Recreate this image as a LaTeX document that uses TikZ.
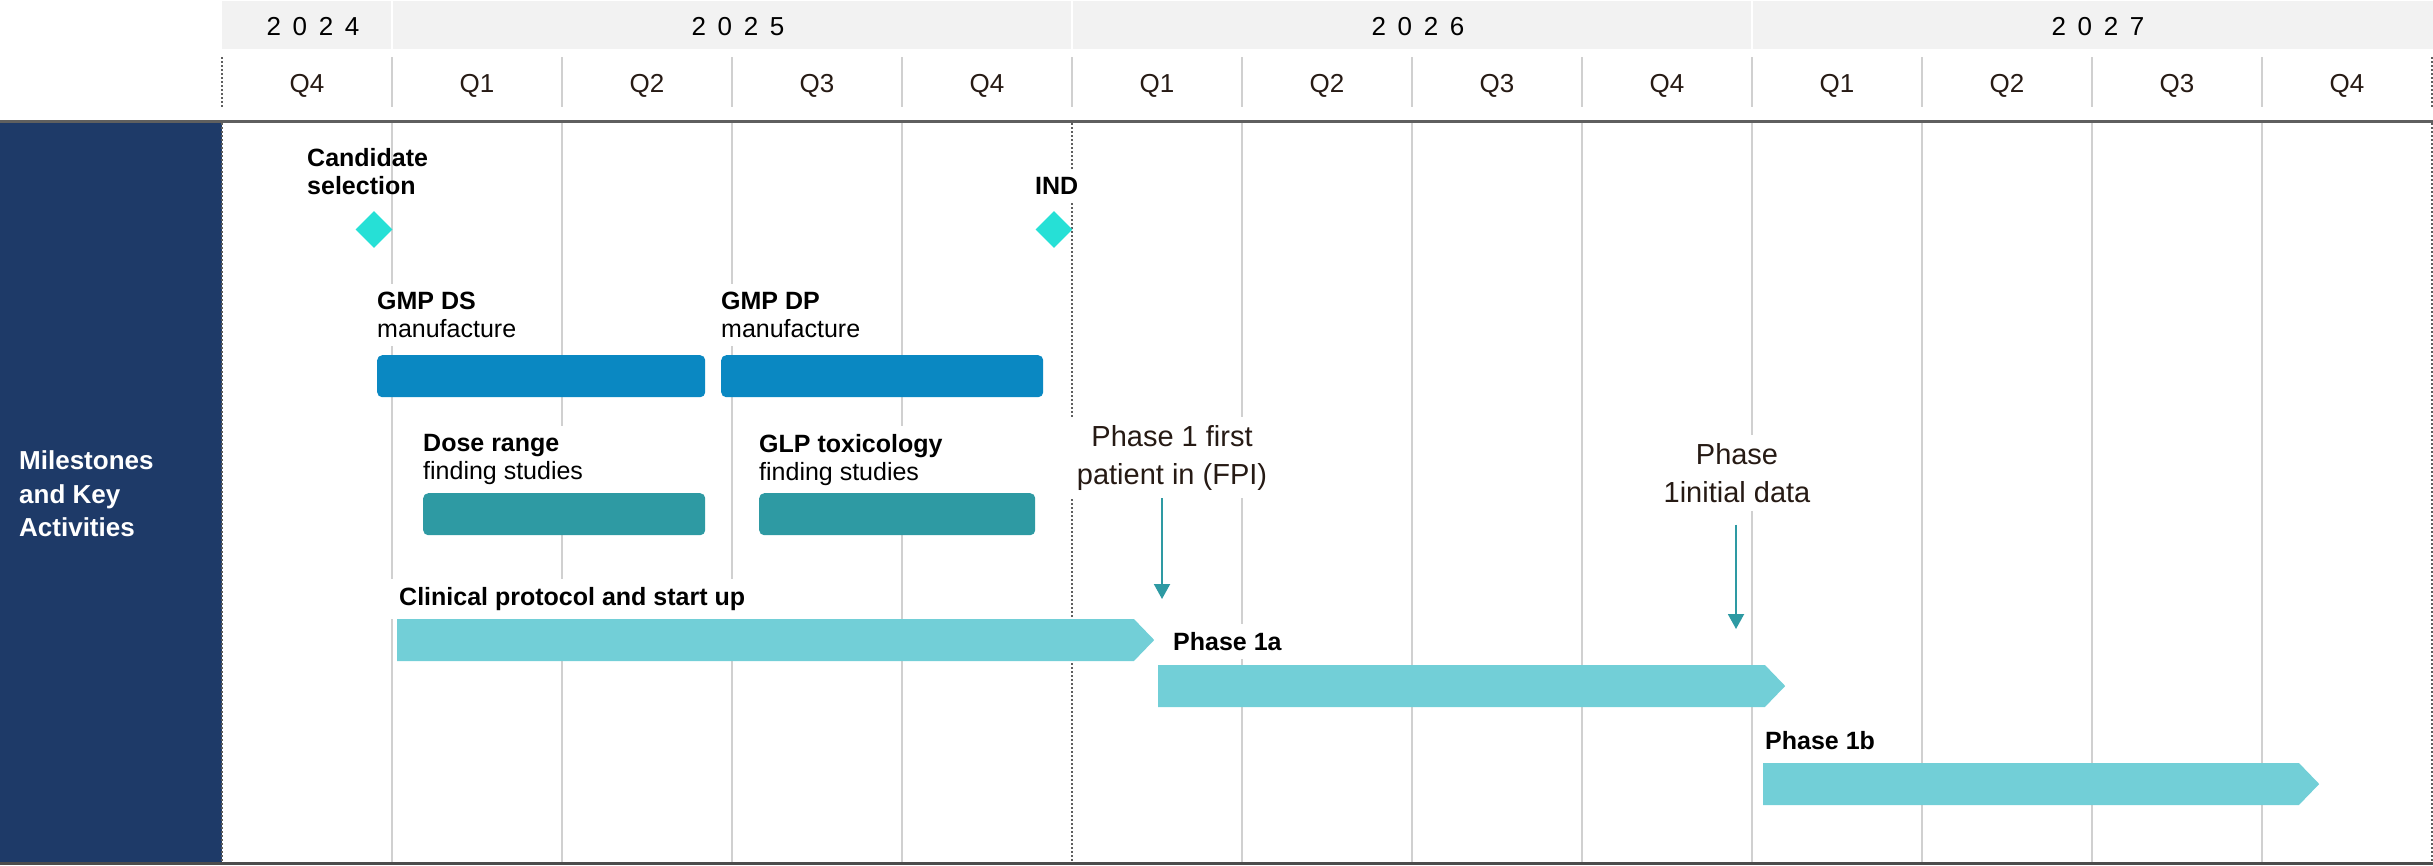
\documentclass[tikz,border=0pt]{standalone}
\usepackage{fontspec}
\setmainfont{Liberation Sans}
\newfontfamily\yearfont[LetterSpace=45]{Liberation Sans}
\usepackage{xcolor}
\usepackage{tikz}
\usetikzlibrary{arrows.meta,shapes.geometric,shapes.symbols}

\definecolor{navy}{RGB}{30,58,104}
\definecolor{bandgray}{RGB}{242,242,242}
\definecolor{gridgray}{RGB}{208,208,208}
\definecolor{darkline}{RGB}{95,95,95}
\definecolor{milestone}{RGB}{38,224,214}
\definecolor{gmpblue}{RGB}{10,136,194}
\definecolor{studyteal}{RGB}{46,154,163}
\definecolor{phasecyan}{RGB}{114,207,215}
\definecolor{inktext}{RGB}{38,26,20}

\tikzset{
 gridline/.style={gridgray,line width=1.5pt},
 dotline/.style={darkline,line width=1.3pt,dash pattern=on 2pt off 2pt},
 yearlab/.style={font=\yearfont\fontsize{26}{30}\selectfont},
 qlab/.style={text=inktext,font=\fontsize{26}{30}\selectfont},
 mslab/.style={anchor=north west,align=left,inner sep=8pt,font=\bfseries\fontsize{25}{28}\selectfont},
 tasklab/.style={anchor=north west,align=left,inner sep=8pt,fill=white,font=\fontsize{25}{28}\selectfont},
 notelab/.style={anchor=north,align=center,inner sep=8pt,fill=white,text=inktext,font=\fontsize{29}{38}\selectfont},
 mstone/.style={diamond,fill=milestone,minimum width=37pt,minimum height=37pt,inner sep=0pt},
 taskbar/.style={anchor=north west,rounded corners=5pt,minimum height=42pt,inner sep=0pt},
 phasebar/.style={signal,signal to=east,signal pointer angle=92,fill=phasecyan,anchor=west,minimum height=42pt,inner sep=0pt},
 pointer/.style={-{Triangle[width=16pt,length=15pt]},studyteal,line width=2pt}
}

\begin{document}
\begin{tikzpicture}[x=1pt,y=-1pt]
\useasboundingbox (0,0) rectangle (2433,865);
% header: years and quarters
\fill[bandgray](222,1) rectangle (2433,49);
\foreach \xx in {392,1072,1752} \draw[white,line width=2.5pt](\xx,1)--(\xx,49);
\foreach \yr/\xc in {2024/307,2025/732,2026/1412,2027/2092}
  \node[yearlab] (y\yr) at (\xc+6,27) {\yr};
\foreach \i in {1,...,12} \draw[gridline](222+170*\i,57)--(222+170*\i,107);
\foreach \xx in {222,2432} \draw[dotline](\xx,57)--(\xx,107);
\foreach \i in {0,...,12}{
  \pgfmathtruncatemacro\q{mod(\i+3,4)+1}
  \node[qlab] (q\i) at (307+170*\i,86) {Q\q};
}
\draw[darkline,line width=3.5pt](0,121.5)--(2433,121.5);
% body
\fill[navy](0,123) rectangle (222,862);
\node[anchor=west,align=left,inner sep=0pt,white,font=\bfseries\fontsize{26}{33.4}\selectfont] (side) at (19,494) {Milestones\\and Key\\Activities};
\foreach \i in {1,2,3,4,6,7,8,9,10,11,12} \draw[gridline](222+170*\i,123)--(222+170*\i,862);
\foreach \xx in {222,1072,2432} \draw[dotline](\xx,123)--(\xx,862);
\draw[darkline!80!black,line width=3pt](0,863.5)--(2433,863.5);

\node[mslab] (candlab) at (299,140) {Candidate\\selection};
\node[mslab,fill=white] (indlab) at (1027,169) {IND};
\node[mstone] (cand) at (374,229.5) {};
\node[mstone] (ind) at (1054,229.5) {};

\node[tasklab] (gmpdslab) at (369,284) {\textbf{GMP DS}\\manufacture};
\node[tasklab] (gmpdplab) at (713,284) {\textbf{GMP DP}\\manufacture};
\node[taskbar,fill=gmpblue,minimum width=328pt] (gmpds) at (377,355) {};
\node[taskbar,fill=gmpblue,minimum width=322pt] (gmpdp) at (721,355) {};
\node[tasklab] (doselab) at (415,426) {\textbf{Dose range}\\finding studies};
\node[tasklab] (glplab) at (751,426) {\textbf{GLP toxicology}\\finding studies};
\node[taskbar,fill=studyteal,minimum width=282pt] (dose) at (423,493) {};
\node[taskbar,fill=studyteal,minimum width=276pt] (glp) at (759,493) {};

\node[notelab] (fpilab) at (1172,417) {Phase 1 first\\patient in (FPI)};
\node[notelab] (initlab) at (1737,435) {Phase\\1initial data};

\node[mslab,fill=white] (cliniclab) at (391,579) {Clinical protocol and start up};
\node[phasebar,minimum width=757pt] (clinic) at (397,640) {};
\node[mslab,fill=white] (p1alab) at (1165,624) {Phase 1a};
\node[phasebar,minimum width=627pt] (p1a) at (1158,686) {};
\node[mslab,fill=white] (p1blab) at (1757,723) {Phase 1b};
\node[phasebar,minimum width=556pt] (p1b) at (1763,784) {};

\coordinate (fpitip) at (1162,599);
\coordinate (inittip) at (1736,629);
\draw[pointer](fpitip |- fpilab.south)--(fpitip);
\draw[pointer,shorten <=14pt](inittip |- initlab.south)--(inittip);
\end{tikzpicture}
\end{document}
